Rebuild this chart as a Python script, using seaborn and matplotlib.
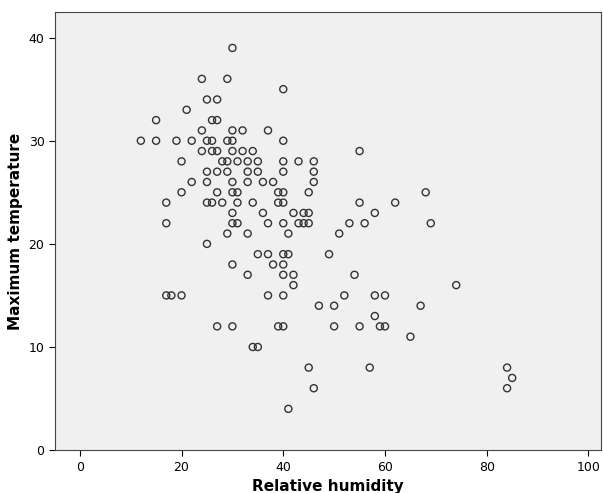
import numpy as np
import pandas as pd
import seaborn as sns
import matplotlib as mpl
mpl.use('Agg')
import matplotlib.pyplot as plt

# values
humidity = [12, 15, 15, 17, 17, 17, 18, 19, 20, 20, 20, 21, 22, 22, 24, 24, 24, 25, 25, 25,
            25, 25, 25, 26, 26, 26, 26, 27, 27, 27, 27, 27, 27, 28, 28, 29, 29, 29, 29, 29,
            30, 30, 30, 30, 30, 30, 30, 30, 30, 30, 31, 31, 31, 31, 32, 32, 33, 33, 33, 33,
            33, 34, 34, 34, 35, 35, 35, 35, 36, 36, 37, 37, 37, 37, 38, 38, 39, 39, 39, 40,
            40, 40, 40, 40, 40, 40, 40, 40, 40, 40, 40, 41, 41, 41, 42, 42, 42, 43, 43, 44,
            44, 45, 45, 45, 45, 46, 46, 46, 46, 47, 49, 50, 50, 51, 52, 53, 54, 55, 55, 55,
            56, 57, 58, 58, 58, 59, 60, 60, 62, 65, 67, 68, 69, 74, 84, 84, 85]
max_temp = [30, 32, 30, 24, 22, 15, 15, 30, 28, 15, 25, 33, 30, 26, 36, 31, 29, 34, 30, 27,
            26, 24, 20, 32, 30, 29, 24, 34, 32, 29, 27, 25, 12, 28, 24, 36, 30, 28, 27, 21,
            39, 31, 30, 29, 26, 25, 23, 22, 18, 12, 28, 25, 24, 22, 31, 29, 28, 27, 26, 21,
            17, 29, 24, 10, 28, 27, 19, 10, 26, 23, 31, 22, 19, 15, 26, 18, 25, 24, 12, 35,
            30, 28, 27, 25, 24, 22, 19, 18, 17, 15, 12, 21, 19, 4, 23, 17, 16, 28, 22, 23,
            22, 25, 23, 22, 8, 28, 27, 26, 6, 14, 19, 14, 12, 21, 15, 22, 17, 29, 24, 12,
            22, 8, 23, 15, 13, 12, 15, 12, 24, 11, 14, 25, 22, 16, 8, 6, 7]

df = pd.DataFrame({'Relative humidity': humidity, 'Maximum temperature': max_temp})

fig = plt.figure(figsize=(6.03, 4.93), dpi=100)
ax = fig.add_axes([0.091, 0.087, 0.906, 0.889])
ax.set_facecolor('#f0f0f0')

sns.scatterplot(data=df, x='Relative humidity', y='Maximum temperature', ax=ax,
                marker='o', s=26, facecolor='none', edgecolor='#333333', linewidth=1.0)

ax.set_xlim(-4.9, 102.5)
ax.set_ylim(0, 42.5)
ax.set_xticks([0, 20, 40, 60, 80, 100])
ax.set_yticks([0, 10, 20, 30, 40])
ax.tick_params(labelsize=9, direction='out', length=4)
ax.set_xlabel('Relative humidity', fontsize=11, fontweight='bold')
ax.set_ylabel('Maximum temperature', fontsize=11, fontweight='bold')
for sp in ax.spines.values():
    sp.set_color('#444444')

plt.savefig('out.png', dpi=100)
